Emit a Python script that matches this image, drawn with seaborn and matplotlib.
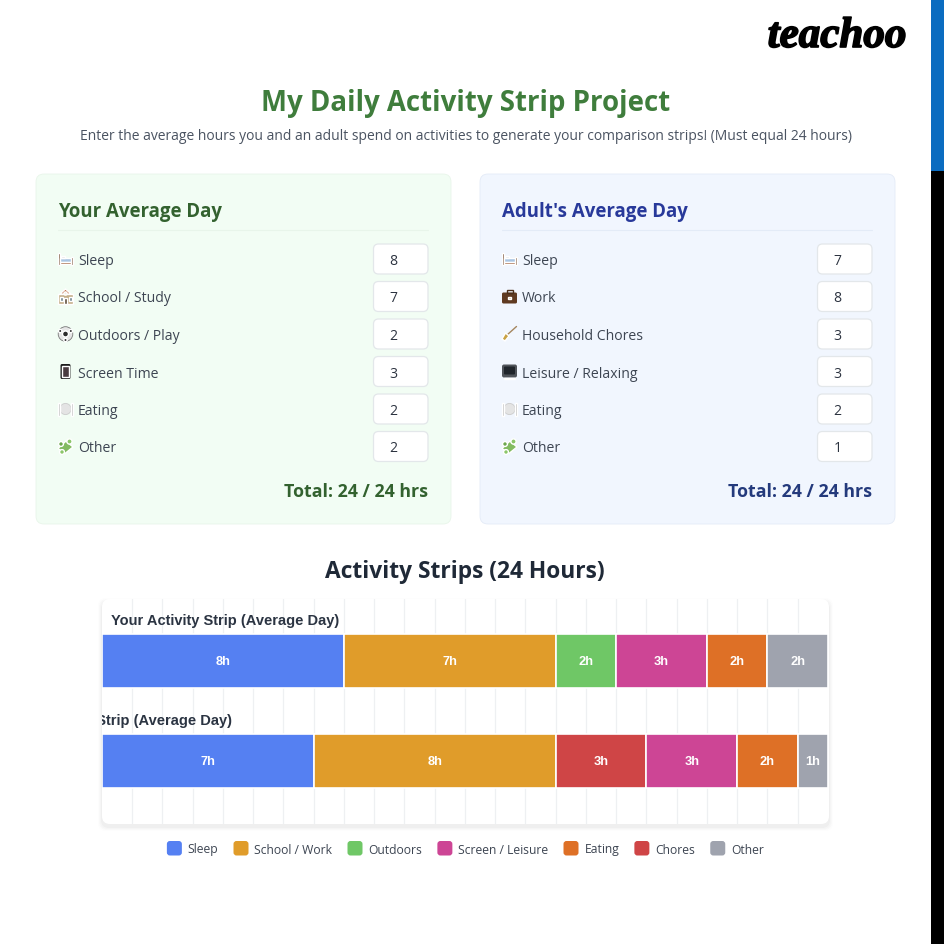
import matplotlib
matplotlib.use('Agg')
import matplotlib.pyplot as plt
import seaborn as sns
from matplotlib.patches import FancyBboxPatch, Rectangle, Circle, Polygon
import matplotlib.patheffects as pe

# chart values
strip_names = ['Your Activity Strip (Average Day)', "Adult's Activity Strip (Average Day)"]
your_activities = ['Sleep', 'School / Work', 'Outdoors', 'Screen / Leisure', 'Eating', 'Other']
your_hours = [8, 7, 2, 3, 2, 2]
adult_activities = ['Sleep', 'School / Work', 'Chores', 'Screen / Leisure', 'Eating', 'Other']
adult_hours = [7, 8, 3, 3, 2, 1]

legend_names = ['Sleep', 'School / Work', 'Outdoors', 'Screen / Leisure', 'Eating', 'Chores', 'Other']
legend_colors = ['#5580f2', '#e09c2a', '#6fc766', '#cd4595', '#de7026', '#cf4546', '#9fa3ae']

your_rows = ['Sleep', 'School / Study', 'Outdoors / Play', 'Screen Time', 'Eating', 'Other']
your_icons = ['bed', 'school', 'ball', 'phone', 'plate', 'puzzle']
adult_rows = ['Sleep', 'Work', 'Household Chores', 'Leisure / Relaxing', 'Eating', 'Other']
adult_icons = ['bed', 'case', 'broom', 'tv', 'plate', 'puzzle']

sns.set_theme(style='white')
plt.rcParams['font.family'] = ['Open Sans', 'DejaVu Sans']

fig = plt.figure(figsize=(9.45, 9.45), dpi=100, facecolor='white')
bg = fig.add_axes([0, 0, 1, 1])
bg.set_xlim(0, 945)
bg.set_ylim(945, 0)
bg.axis('off')


def round_box(x, y, w, h, r, fc, ec='none', lw=0, alpha=1, z=1):
    bg.add_patch(FancyBboxPatch((x + r, y + r), w - 2 * r, h - 2 * r, boxstyle=f'round,pad={r},rounding_size={r}',
                                fc=fc, ec=ec, lw=lw, alpha=alpha, zorder=z))


def draw_icon(kind, x, y):
    # small hand drawn stand-ins for the emoji, x = left edge, y = centre
    if kind == 'bed':
        bg.add_patch(Rectangle((x, y - 6), 2, 12, fc='#6d4326', zorder=3))
        bg.add_patch(Rectangle((x + 13, y - 2), 2, 8, fc='#6d4326', zorder=3))
        bg.add_patch(Rectangle((x + 2, y - 1.5), 11, 4.5, fc='#a9c4e2', zorder=3))
        bg.add_patch(Rectangle((x + 2, y + 3), 11, 2, fc='#9c5a34', zorder=3))
        bg.add_patch(Rectangle((x + 2.5, y - 3.5), 4, 2.5, fc='#e4e4e4', zorder=3))
    elif kind == 'school':
        bg.add_patch(Rectangle((x, y - 2.5), 15, 9.5, fc='#c4ae88', zorder=3))
        bg.add_patch(Polygon([(x + 2, y - 2.5), (x + 7.5, y - 7.5), (x + 13, y - 2.5)], fc='#b9623a', zorder=3))
        bg.add_patch(Circle((x + 7.5, y - 3), 1.6, fc='#f3efe2', zorder=3))
        bg.add_patch(Rectangle((x + 6, y + 1.5), 3, 5.5, fc='#5d4c3a', zorder=3))
        bg.add_patch(Rectangle((x + 1.5, y), 3, 4, fc='#6f838d', zorder=3))
        bg.add_patch(Rectangle((x + 10.5, y), 3, 4, fc='#6f838d', zorder=3))
    elif kind == 'ball':
        bg.add_patch(Circle((x + 7.5, y), 7.3, fc='#e6e6e6', ec='#777777', lw=0.6, zorder=3))
        bg.add_patch(Circle((x + 7.5, y), 3, fc='#2b2b2b', zorder=3))
        bg.add_patch(Circle((x + 2.2, y - 3), 1.7, fc='#3a3a3a', zorder=3))
        bg.add_patch(Circle((x + 12.8, y - 3), 1.7, fc='#3a3a3a', zorder=3))
        bg.add_patch(Circle((x + 7.5, y + 6), 1.7, fc='#3a3a3a', zorder=3))
    elif kind == 'phone':
        round_box(x + 2.5, y - 7.5, 10, 15, 1.5, '#1c1c1c', z=3)
        bg.add_patch(Rectangle((x + 4, y - 5.5), 7, 10.5, fc='#4a3b40', zorder=3))
    elif kind == 'plate':
        bg.add_patch(Circle((x + 7.5, y), 5.6, fc='#e4e4e4', ec='#cccccc', lw=0.6, zorder=3))
        bg.add_patch(Rectangle((x, y - 6.5), 1.8, 13, fc='#bcbcbc', zorder=3))
        bg.add_patch(Rectangle((x + 13.2, y - 6.5), 1.8, 13, fc='#bcbcbc', zorder=3))
    elif kind == 'puzzle':
        bg.add_patch(Polygon([(x, y + 2), (x + 8, y - 5.5), (x + 15, y + 0.5), (x + 7, y + 7)], fc='#83bb61', zorder=3))
        bg.add_patch(Circle((x + 11.5, y - 5), 2.6, fc='#8cc66a', zorder=3))
        bg.add_patch(Circle((x + 3, y - 2.5), 2.4, fc='#6ea84e', zorder=3))
        bg.add_patch(Circle((x + 4, y + 5.5), 2.4, fc='#8cc66a', zorder=3))
    elif kind == 'case':
        round_box(x, y - 4, 15, 11, 1.5, '#5f3a21', z=3)
        bg.add_patch(Rectangle((x + 4.5, y - 7), 6, 3, fc='none', ec='#4a2d18', lw=1, zorder=3))
        bg.add_patch(Rectangle((x + 6.3, y), 2.4, 2.2, fc='#d9b777', zorder=3))
    elif kind == 'broom':
        bg.plot([x + 5, x + 14.5], [y + 1, y - 7.5], color='#a5865f', lw=1, zorder=3)
        bg.add_patch(Polygon([(x + 3.5, y - 1), (x + 7, y + 2), (x + 3, y + 7), (x, y + 5)], fc='#c9a244', zorder=3))
    elif kind == 'tv':
        round_box(x, y - 7, 15, 13, 2, '#50545a', z=3)
        round_box(x + 2, y - 5, 11, 8, 1, '#20252b', z=3)
        bg.add_patch(Rectangle((x + 2, y + 6), 11, 1.5, fc='#333333', zorder=3))


def draw_panel(left, fill, edge, head_color, total_color, title, rows, icons, values):
    width = 415
    round_box(left, 175, width, 350, 8, fill, ec=edge, lw=0.6)
    inner_l = left + 22
    inner_r = left + 392
    bg.text(inner_l, 212, title, color=head_color, fontsize=13.4, fontweight='bold', va='center', ha='left', zorder=4)
    bg.plot([inner_l, inner_r], [230.5, 230.5], color=edge, lw=0.8, zorder=2)
    for i, (name, icon, val) in enumerate(zip(rows, icons, values)):
        y = 260 + i * 37.5
        draw_icon(icon, inner_l, y)
        bg.text(inner_l + 20, y + 5, name, color='#3d4552', fontsize=10.05, va='baseline', ha='left', zorder=4)
        round_box(inner_r - 54.5, y - 15, 54.5, 30, 5, 'white', ec='#e3e7ea', lw=0.9, z=3)
        bg.text(inner_r - 34.5, y + 5, str(val), color='#2c3340', fontsize=10.05, va='baseline', ha='center', zorder=4)
    bg.text(inner_r, 492, f'Total: {sum(values)} / 24 hrs', color=total_color, fontsize=12.75, fontweight='bold',
            va='center', ha='right', zorder=4)


# header
bg.text(465.5, 103, 'My Daily Activity Strip Project', color='#3f7d3c', fontsize=19.9, fontweight='bold',
        ha='center', va='center')
bg.text(465.5, 137, 'Enter the average hours you and an adult spend on activities to generate your comparison strips! (Must equal 24 hours)',
        color='#4a5361', fontsize=10.03, ha='center', va='center')

draw_panel(36, '#f2fdf4', '#e8f5ea', '#33622f', '#33622f', 'Your Average Day', your_rows, your_icons, your_hours)
draw_panel(480, '#f1f6fe', '#e3ebf7', '#28399a', '#243a7c', "Adult's Average Day", adult_rows, adult_icons, adult_hours)

bg.text(465, 572, 'Activity Strips (24 Hours)', color='#1f2937', fontsize=16.4, fontweight='bold', ha='center', va='center')

# card shadow behind the strips
for grow, alpha in [(4, 0.012), (3, 0.018), (2, 0.025), (1, 0.035)]:
    round_box(102 - grow, 600 + 3 - grow, 727 + 2 * grow, 225 + 2 * grow, 8, '#555555', alpha=alpha, z=1)
round_box(102, 600, 727, 225, 8, 'white', z=1.5)

# strips: 726 px for 24 hours
ax = fig.add_axes([102 / 945, 1 - 825 / 945, 726 / 945, 225 / 945], facecolor='none')
color_of = dict(zip(legend_names, legend_colors))
for row, (names, hours) in enumerate([(your_activities, your_hours), (adult_activities, adult_hours)]):
    start = 0
    for name, h in zip(names, hours):
        sns.barplot(x=[h], y=[row], orient='h', native_scale=True, left=start, width=0.54, color=color_of[name],
                    saturation=1, edgecolor='white', linewidth=1.2, ax=ax, zorder=3)
        ax.bar_label(ax.containers[-1], labels=[f'{h}h'], label_type='center', color='white', fontsize=9.3,
                     fontweight='bold', family='Liberation Sans', zorder=4)
        start += h

ax.set_xlim(0, 24)
ax.set_ylim(1.63, -0.62)
ax.set_xticks(range(1, 24))
ax.set_yticks([])
ax.tick_params(length=0, labelbottom=False)
ax.grid(axis='x', color='#eef0f2', lw=0.9, zorder=0)
ax.set_axisbelow(True)
ax.set_xlabel('')
ax.set_ylabel('')
sns.despine(ax=ax, left=True, bottom=True)

# row captions, the second one is cut off by the card on the left as in the page
ax.text(0.3, -0.41, strip_names[0], color='#2b3442', fontsize=10.5, fontweight='bold', family='Liberation Sans',
        ha='left', va='center', clip_on=True, zorder=5)
ax.text(4.3, 0.59, strip_names[1], color='#2b3442', fontsize=10.5, fontweight='bold', family='Liberation Sans',
        ha='right', va='center', clip_on=True, zorder=5)

# legend row, laid out from the measured text widths and centred
fig.canvas.draw()
renderer = fig.canvas.get_renderer()
labels = [bg.text(0, 853.5, n, color='#3d4552', fontsize=8.75, ha='left', va='baseline') for n in legend_names]
widths = [t.get_window_extent(renderer).width for t in labels]
total = sum(widths) + 21 * len(widths) + 15 * (len(widths) - 1)
cursor = 465.5 - total / 2
for t, w, c in zip(labels, widths, legend_colors):
    round_box(cursor, 842, 15, 14.5, 3, c, z=3)
    t.set_x(cursor + 21)
    cursor += 21 + w + 15

# site furniture
bg.add_patch(Rectangle((931, 0), 14, 172, fc='#0b6cc0', ec='none', zorder=6))
bg.add_patch(Rectangle((931, 172), 14, 773, fc='black', ec='none', zorder=6))
bg.text(837, 38, 'teachoo', color='black', fontsize=31, family='Liberation Serif', style='italic', fontweight='bold',
        ha='center', va='center', zorder=6, path_effects=[pe.withStroke(linewidth=1.2, foreground='black')])

fig.savefig('out.png', dpi=100)
